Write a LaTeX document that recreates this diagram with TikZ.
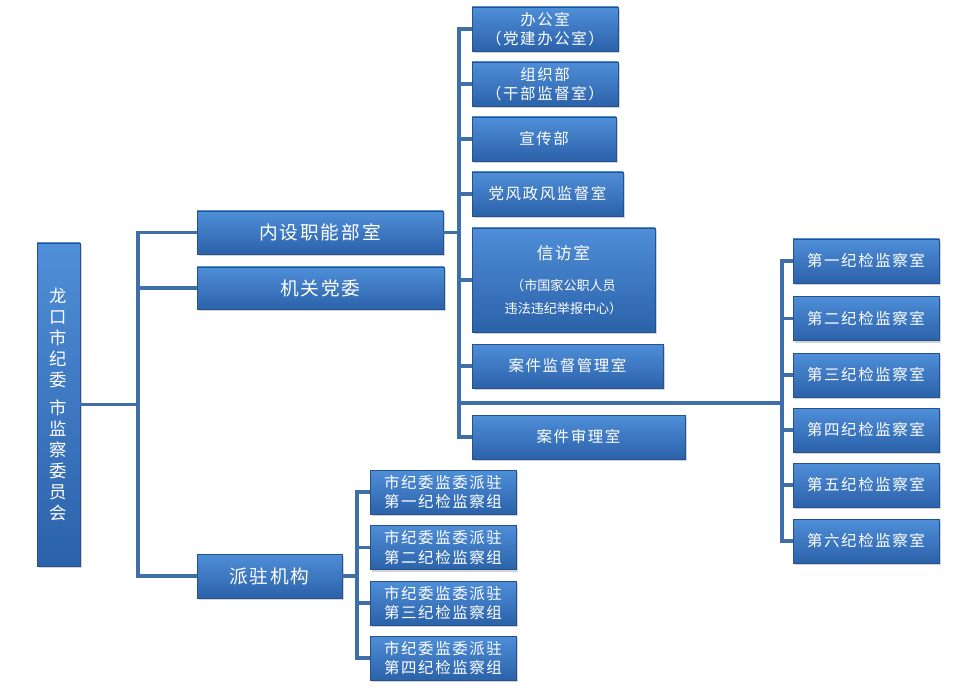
\documentclass[tikz,border=0pt]{standalone}
\usepackage{fontspec}
\usepackage{tikz}
\usetikzlibrary{shadows}
\newfontfamily\cjk[LetterSpace=10]{Noto Sans CJK SC}
\newfontfamily\cjkplain{Noto Sans CJK SC}

\definecolor{boxtop}{HTML}{4F8ED8}
\definecolor{boxbot}{HTML}{2B62AA}
\definecolor{boxedge}{HTML}{24528E}
\definecolor{linkblue}{HTML}{3F6FA9}

\tikzset{
  box/.style={rectangle, top color=boxtop, bottom color=boxbot, draw=boxedge,
    line width=0.5pt, text=white, inner sep=0pt, align=center,
    drop shadow={shadow xshift=1.2pt, shadow yshift=-1.8pt, opacity=0.35}},
  bigbox/.style={box, font=\cjk\fontsize{14}{16}\selectfont},
  smallbox/.style={box, font=\cjk\fontsize{11.6}{14.5}\selectfont,
    minimum width=109.5pt, minimum height=33pt},
  link/.style={draw=linkblue, line width=2.5pt}
}

\begin{document}
\begin{tikzpicture}[x=0.75pt,y=-0.75pt]
\useasboundingbox (0,0) rectangle (956,695);

% top level
\node[box, minimum width=32.25pt, minimum height=242.25pt,
  font=\cjkplain\fontsize{13}{15.75}\selectfont] (main) at (58.5,404.5)
  {龙\\口\\市\\纪\\委\\[5pt]市\\监\\察\\委\\员\\会};

\node[bigbox, minimum width=184.5pt, minimum height=32.25pt] (nsz) at (320,232.5) {内设职能部室};
\node[bigbox, minimum width=185.25pt, minimum height=31.5pt] (jgdw) at (320.5,288) {机关党委};
\node[bigbox, minimum width=108.75pt, minimum height=33pt] (pzjg) at (269.5,576) {派驻机构};

% functional offices
\node[smallbox] (bgs) at (545,29) {办公室\\（党建办公室）};
\node[smallbox] (zzb) at (545,84) {组织部\\（干部监督室）};
\node[smallbox, minimum width=108pt] (xcb) at (544,139) {宣传部};
\node[smallbox, minimum width=113.25pt] (dfzf) at (547.5,194) {党风政风监督室};
\node[box, minimum width=137.25pt, minimum height=78pt,
  font=\cjkplain\fontsize{9.5}{17}\selectfont] (xfs) at (563.5,280)
  {\cjk\fontsize{12.5}{14}\selectfont 信访室\\[6pt]
   \cjkplain\fontsize{9.8}{17}\selectfont （市国家公职人员\\
   \cjkplain\fontsize{9.8}{17}\selectfont 违法违纪举报中心）};
\node[smallbox, minimum width=143.25pt] (ajjd) at (567.5,366) {案件监督管理室};
\node[smallbox, minimum width=159.75pt] (ajsl) at (578.5,437) {案件审理室};

% inspection offices
\node[smallbox] (jjs1) at (866,261) {第一纪检监察室};
\node[smallbox] (jjs2) at (866,318.5) {第二纪检监察室};
\node[smallbox] (jjs3) at (866,375) {第三纪检监察室};
\node[smallbox] (jjs4) at (866,430) {第四纪检监察室};
\node[smallbox] (jjs5) at (866,485) {第五纪检监察室};
\node[smallbox] (jjs6) at (866,541) {第六纪检监察室};

% stationed groups
\node[smallbox] (pz1) at (443,492) {市纪委监委派驻\\第一纪检监察组};
\node[smallbox] (pz2) at (443,547.5) {市纪委监委派驻\\第二纪检监察组};
\node[smallbox] (pz3) at (443,603) {市纪委监委派驻\\第三纪检监察组};
\node[smallbox] (pz4) at (443,658) {市纪委监委派驻\\第四纪检监察组};

% connectors
\coordinate (tA) at (138,404.5);
\coordinate (tB) at (459,232.5);
\coordinate (tC) at (782,403);
\coordinate (tD) at (357,576);

\foreach \n in {nsz,jgdw,pzjg}
  \draw[link] (main.east) -- (tA) |- (\n.west);
\foreach \n in {bgs,zzb,xcb,dfzf,xfs,ajjd,ajsl}
  \draw[link] (nsz.east) -- (tB) |- (\n.west);
\draw[link] (tB) |- (tC);
\foreach \n in {jjs1,jjs2,jjs3,jjs4,jjs5,jjs6}
  \draw[link] (tC) |- (\n.west);
\foreach \n in {pz1,pz2,pz3,pz4}
  \draw[link] (pzjg.east) -- (tD) |- (\n.west);

\end{tikzpicture}
\end{document}
